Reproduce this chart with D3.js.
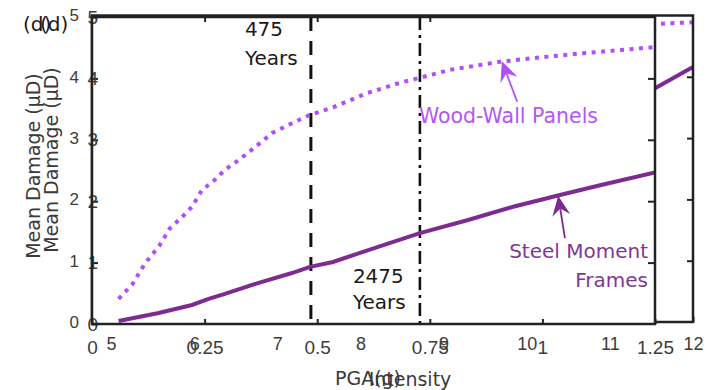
<!DOCTYPE html>
<html>
<head>
<meta charset="utf-8">
<script src="https://cdn.jsdelivr.net/npm/d3@7"></script>
<style>
  html, body { margin: 0; padding: 0; background: #fff; }
  svg { display: block; font-family: "DejaVu Sans", sans-serif; }
</style>
</head>
<body>
<svg id="chart" width="720" height="390"></svg>
<script>
// ---- Intensity-based curves (background panel) ----
const intensity = [11.5, 12];
const woodByIntensity = [4.86, 4.89];
const steelByIntensity = [3.78, 4.16];
const intensityTicks = [5, 6, 7, 8, 9, 10, 11, 12];

// ---- PGA-based curves (foreground panel) ----
const woodPga = [0.059, 0.089, 0.118, 0.149, 0.173, 0.200, 0.222, 0.244, 0.273, 0.295, 0.326, 0.362,
                 0.400, 0.444, 0.482, 0.535, 0.611, 0.684, 0.728, 0.795, 0.906, 0.979, 1.090, 1.25];
const woodDamage = [0.41, 0.64, 0.99, 1.27, 1.56, 1.74, 1.91, 2.18, 2.35, 2.51, 2.67, 2.88,
                    3.11, 3.27, 3.40, 3.53, 3.76, 3.93, 4.01, 4.14, 4.27, 4.33, 4.41, 4.51];
const steelPga = [0.059, 0.148, 0.222, 0.259, 0.295, 0.370, 0.444, 0.484, 0.535, 0.595, 0.662,
                  0.728, 0.833, 0.935, 1.039, 1.128, 1.25];
const steelDamage = [0.05, 0.18, 0.31, 0.41, 0.49, 0.67, 0.83, 0.93, 1.01, 1.16, 1.32,
                     1.48, 1.69, 1.91, 2.10, 2.26, 2.47];
const pgaTicks = [0, 0.25, 0.5, 0.75, 1, 1.25];
const damageTicks = [0, 1, 2, 3, 4, 5];

// Return-period hazard levels (PGA, g)
const hazardLevels = [
  { label: ["475", "Years"], pga: 0.486, dash: "14,10" },
  { label: ["2475", "Years"], pga: 0.728, dash: "13,5,3,5" }
];

const WOOD = "#b24ef8";
const STEEL = "#7d2b90";
const INK = "#222";
const TICK_TXT = "#3c3c3c";

const svg = d3.select("#chart");

// ================= Panel A: damage vs intensity =================
const A = { left: 92, right: 693, top: 15.5, bottom: 322 };
const xA = d3.scaleLinear().domain([4.77, 12]).range([A.left, A.right]);
const yA = d3.scaleLinear().domain([0, 5]).range([A.bottom, A.top]);
const gA = svg.append("g");

gA.append("clipPath").attr("id", "clipA").append("rect")
  .attr("x", A.left).attr("y", A.top).attr("width", A.right - A.left).attr("height", A.bottom - A.top);

const lineA = (ys) => d3.line().x((d, i) => xA(intensity[i])).y(d => yA(d))(ys);
gA.append("path").attr("d", lineA(woodByIntensity)).attr("clip-path", "url(#clipA)")
  .attr("fill", "none").attr("stroke", WOOD).attr("stroke-width", 4).attr("stroke-dasharray", "4,5.5");
gA.append("path").attr("d", lineA(steelByIntensity)).attr("clip-path", "url(#clipA)")
  .attr("fill", "none").attr("stroke", STEEL).attr("stroke-width", 4);

function styleAxis(g, size, color) {
  g.select(".domain").remove();
  g.selectAll(".tick line").attr("stroke", INK).attr("stroke-width", 2);
  g.selectAll(".tick text").attr("fill", color).style("font-size", size + "px");
}

gA.append("g").attr("transform", `translate(0,${A.bottom})`)
  .call(d3.axisBottom(xA).tickValues(intensityTicks).tickFormat(d3.format("d"))
        .tickSizeInner(-5).tickSizeOuter(0).tickPadding(15))
  .call(g => styleAxis(g, 18, TICK_TXT));
gA.append("g").attr("transform", `translate(${A.left},0)`)
  .call(d3.axisLeft(yA).tickValues(damageTicks).tickFormat(d3.format("d"))
        .tickSizeInner(-6).tickSizeOuter(0).tickPadding(13))
  .call(g => styleAxis(g, 17, TICK_TXT));
gA.append("g").attr("transform", `translate(${A.right},0)`)
  .call(d3.axisRight(yA).tickValues(damageTicks.slice(1, 5)).tickFormat("")
        .tickSizeInner(-6).tickSizeOuter(0))
  .call(g => styleAxis(g, 17, TICK_TXT));
gA.append("rect").attr("x", A.left).attr("y", A.top)
  .attr("width", A.right - A.left).attr("height", A.bottom - A.top)
  .attr("fill", "none").attr("stroke", INK).attr("stroke-width", 2.5);

// ================= Panel B: damage vs PGA =================
const B = { left: 92, right: 655, top: 17, bottom: 324 };
const xB = d3.scaleLinear().domain([0, 1.25]).range([B.left, B.right]);
const yB = d3.scaleLinear().domain([0, 5]).range([B.bottom, B.top]);
const gB = svg.append("g");

gB.append("rect").attr("x", B.left).attr("y", B.top)
  .attr("width", B.right - B.left).attr("height", B.bottom - B.top).attr("fill", "#fff");
gB.append("clipPath").attr("id", "clipB").append("rect")
  .attr("x", B.left).attr("y", B.top).attr("width", B.right - B.left).attr("height", B.bottom - B.top);

// hazard level lines and their labels
hazardLevels.forEach((h, i) => {
  gB.append("line").attr("x1", xB(h.pga)).attr("x2", xB(h.pga))
    .attr("y1", yB(5)).attr("y2", yB(0))
    .attr("stroke", "#111").attr("stroke-width", i === 0 ? 3 : 2.6).attr("stroke-dasharray", h.dash);
});
const t475 = gB.append("text").attr("fill", "#1a1a1a").style("font-size", "20px")
  .attr("x", xB(0.486) - 66).attr("y", yB(4.69));
t475.append("tspan").text(hazardLevels[0].label[0]);
t475.append("tspan").attr("x", xB(0.486) - 66).attr("dy", 29).text(hazardLevels[0].label[1]);
const t2475 = gB.append("text").attr("fill", "#1a1a1a").style("font-size", "20px")
  .attr("x", xB(0.728) - 67).attr("y", yB(0.67));
t2475.append("tspan").text(hazardLevels[1].label[0]);
t2475.append("tspan").attr("x", xB(0.728) - 67).attr("dy", 26).text(hazardLevels[1].label[1]);

const lineB = (xs, ys) => d3.line().x((d, i) => xB(xs[i])).y(d => yB(d))(ys);
gB.append("path").attr("d", lineB(woodPga, woodDamage)).attr("clip-path", "url(#clipB)")
  .attr("fill", "none").attr("stroke", WOOD).attr("stroke-width", 4).attr("stroke-dasharray", "4,5.5");
gB.append("path").attr("d", lineB(steelPga, steelDamage)).attr("clip-path", "url(#clipB)")
  .attr("fill", "none").attr("stroke", STEEL).attr("stroke-width", 4);

// callout arrows pointing at each curve
function arrow(tail, tip, color) {
  const x0 = xB(tail[0]), y0 = yB(tail[1]), x1 = xB(tip[0]), y1 = yB(tip[1]);
  const len = Math.hypot(x1 - x0, y1 - y0), ux = (x1 - x0) / len, uy = (y1 - y0) / len;
  const px = -uy, py = ux, L = 20, W = 9, N = 13;
  gB.append("line").attr("x1", x0).attr("y1", y0).attr("x2", x1 - ux * N).attr("y2", y1 - uy * N)
    .attr("stroke", color).attr("stroke-width", 1.8);
  const pts = [[x1, y1], [x1 - ux * L + px * W, y1 - uy * L + py * W],
               [x1 - ux * N, y1 - uy * N], [x1 - ux * L - px * W, y1 - uy * L - py * W]];
  gB.append("path").attr("d", "M" + pts.map(p => p.join(",")).join("L") + "Z").attr("fill", color);
}
arrow([0.944, 3.62], [0.91, 4.28], WOOD);
arrow([1.05, 1.40], [1.035, 2.09], STEEL);

gB.append("text").attr("x", xB(0.728) - 1).attr("y", yB(3.28)).attr("fill", "#b455f6")
  .style("font-size", "20.5px").text("Wood-Wall Panels");
const steelLbl = gB.append("text").attr("fill", "#7e3892").style("font-size", "20px")
  .attr("text-anchor", "end");
steelLbl.append("tspan").attr("x", 648).attr("y", yB(1.08)).text("Steel Moment");
steelLbl.append("tspan").attr("x", 648).attr("dy", 29).text("Frames");

gB.append("g").attr("transform", `translate(0,${B.bottom})`)
  .call(d3.axisBottom(xB).tickValues(pgaTicks).tickFormat(d => d3.format("")(d))
        .tickSizeInner(-5).tickSizeOuter(0).tickPadding(16.5))
  .call(g => styleAxis(g, 19, TICK_TXT));
gB.append("g").attr("transform", `translate(0,${B.top})`)
  .call(d3.axisTop(xB).tickValues(pgaTicks.slice(1, 4)).tickFormat("")
        .tickSizeInner(-5).tickSizeOuter(0))
  .call(g => styleAxis(g, 19, TICK_TXT));
gB.append("g").attr("transform", `translate(${B.left},0)`)
  .call(d3.axisLeft(yB).tickValues(damageTicks).tickFormat(d3.format("d"))
        .tickSizeInner(-6).tickSizeOuter(0).tickPadding(-6))
  .call(g => styleAxis(g, 19, TICK_TXT));
gB.append("g").attr("transform", `translate(${B.right},0)`)
  .call(d3.axisRight(yB).tickValues(damageTicks.slice(1, 5)).tickFormat("")
        .tickSizeInner(-7).tickSizeOuter(0))
  .call(g => styleAxis(g, 19, TICK_TXT));
gB.append("rect").attr("x", B.left).attr("y", B.top)
  .attr("width", B.right - B.left).attr("height", B.bottom - B.top)
  .attr("fill", "none").attr("stroke", INK).attr("stroke-width", 2.5);

// ---- titles, axis names and panel tags ----
const yTitles = [[40, 166], [58, 160]];
yTitles.forEach(([x, y]) => {
  svg.append("text").attr("transform", `translate(${x},${y}) rotate(-90)`)
    .attr("text-anchor", "middle").attr("fill", "#3a3a3a").style("font-size", "19px")
    .text("Mean Damage (μD)");
});
svg.append("text").attr("x", 410).attr("y", 386).attr("text-anchor", "middle")
  .attr("fill", "#3a3a3a").style("font-size", "19px").text("Intensity");
svg.append("text").attr("x", 368).attr("y", 385).attr("text-anchor", "middle")
  .attr("fill", "#3a3a3a").style("font-size", "19px").text("PGA(g)");
[[23, 31], [40, 31]].forEach(([x, y]) => {
  svg.append("text").attr("x", x).attr("y", y).attr("fill", "#1a1a1a")
    .style("font-size", "20px").text("(d)");
});
</script>
</body>
</html>
